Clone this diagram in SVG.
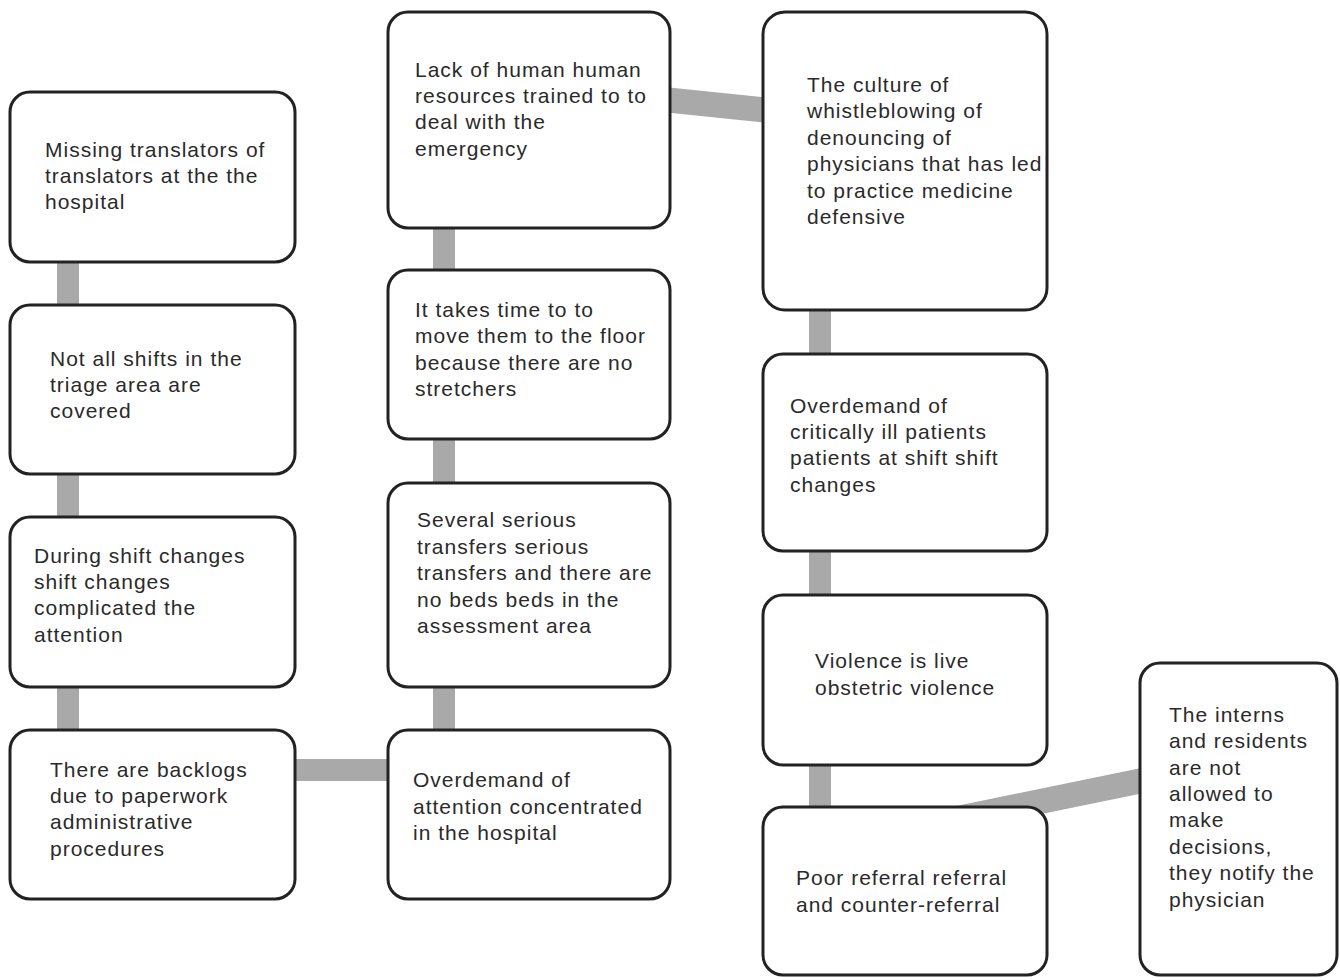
<svg xmlns="http://www.w3.org/2000/svg" width="1340" height="980" viewBox="0 0 1340 980">
  <style>
    .box { fill: #ffffff; stroke: #222222; stroke-width: 3; }
    .lbl { font-family: "Liberation Sans", Arial, sans-serif; font-size: 21px; letter-spacing: 1px; fill: #2a2a2a; }
    .link { stroke: #a9a9a9; stroke-width: 22; fill: none; stroke-linecap: butt; }
    .link.slant { stroke-width: 25; }
  </style>
  <rect width="1340" height="980" fill="#ffffff"/>

  <!-- connectors -->
  <g id="connectors">
    <line class="link" x1="68" y1="262" x2="68" y2="305"/>
    <line class="link" x1="68" y1="474" x2="68" y2="517"/>
    <line class="link" x1="68" y1="687" x2="68" y2="730"/>
    <line class="link" x1="295" y1="770" x2="388" y2="770"/>
    <line class="link" x1="444" y1="228" x2="444" y2="270"/>
    <line class="link" x1="444" y1="439" x2="444" y2="483"/>
    <line class="link" x1="444" y1="687" x2="444" y2="730"/>
    <line class="link slant" x1="668" y1="100" x2="765" y2="110"/>
    <line class="link" x1="820" y1="310" x2="820" y2="354"/>
    <line class="link" x1="820" y1="551" x2="820" y2="595"/>
    <line class="link" x1="820" y1="765" x2="820" y2="807"/>
    <line class="link slant" x1="955" y1="819" x2="1145" y2="780"/>
  </g>

  <!-- column 1 -->
  <g id="node-translators">
    <rect class="box" x="10" y="92" width="285" height="170" rx="20"/>
    <text class="lbl"><tspan x="45" y="157">Missing translators of</tspan><tspan x="45" y="183">translators at the the</tspan><tspan x="45" y="209">hospital</tspan></text>
  </g>
  <g id="node-shifts">
    <rect class="box" x="10" y="305" width="285" height="169" rx="20"/>
    <text class="lbl"><tspan x="50" y="366">Not all shifts in the</tspan><tspan x="50" y="392">triage area are</tspan><tspan x="50" y="418">covered</tspan></text>
  </g>
  <g id="node-shift-changes">
    <rect class="box" x="10" y="517" width="285" height="170" rx="20"/>
    <text class="lbl"><tspan x="34" y="563">During shift changes</tspan><tspan x="34" y="589">shift changes</tspan><tspan x="34" y="615">complicated the</tspan><tspan x="34" y="642">attention</tspan></text>
  </g>
  <g id="node-backlogs">
    <rect class="box" x="10" y="730" width="285" height="169" rx="20"/>
    <text class="lbl"><tspan x="50" y="777">There are backlogs</tspan><tspan x="50" y="803">due to paperwork</tspan><tspan x="50" y="829">administrative</tspan><tspan x="50" y="856">procedures</tspan></text>
  </g>

  <!-- column 2 -->
  <g id="node-human-resources">
    <rect class="box" x="388" y="12" width="282" height="216" rx="20"/>
    <text class="lbl"><tspan x="415" y="77">Lack of human human</tspan><tspan x="415" y="103">resources trained to to</tspan><tspan x="415" y="129">deal with the</tspan><tspan x="415" y="156">emergency</tspan></text>
  </g>
  <g id="node-stretchers">
    <rect class="box" x="388" y="270" width="282" height="169" rx="20"/>
    <text class="lbl"><tspan x="415" y="317">It takes time to to</tspan><tspan x="415" y="343">move them to the floor</tspan><tspan x="415" y="370">because there are no</tspan><tspan x="415" y="396">stretchers</tspan></text>
  </g>
  <g id="node-transfers">
    <rect class="box" x="388" y="483" width="282" height="204" rx="20"/>
    <text class="lbl"><tspan x="417" y="527">Several serious</tspan><tspan x="417" y="554">transfers serious</tspan><tspan x="417" y="580">transfers and there are</tspan><tspan x="417" y="607">no beds beds in the</tspan><tspan x="417" y="633">assessment area</tspan></text>
  </g>
  <g id="node-overdemand-hospital">
    <rect class="box" x="388" y="730" width="282" height="169" rx="20"/>
    <text class="lbl"><tspan x="413" y="787">Overdemand of</tspan><tspan x="413" y="814">attention concentrated</tspan><tspan x="413" y="840">in the hospital</tspan></text>
  </g>

  <!-- column 3 -->
  <g id="node-whistleblowing">
    <rect class="box" x="763" y="12" width="284" height="298" rx="22"/>
    <text class="lbl"><tspan x="807" y="92">The culture of</tspan><tspan x="807" y="118">whistleblowing of</tspan><tspan x="807" y="145">denouncing of</tspan><tspan x="807" y="171">physicians that has led</tspan><tspan x="807" y="198">to practice medicine</tspan><tspan x="807" y="224">defensive</tspan></text>
  </g>
  <g id="node-critically-ill">
    <rect class="box" x="763" y="354" width="284" height="197" rx="20"/>
    <text class="lbl"><tspan x="790" y="413">Overdemand of</tspan><tspan x="790" y="439">critically ill patients</tspan><tspan x="790" y="465">patients at shift shift</tspan><tspan x="790" y="492">changes</tspan></text>
  </g>
  <g id="node-violence">
    <rect class="box" x="763" y="595" width="284" height="170" rx="20"/>
    <text class="lbl"><tspan x="815" y="668">Violence is live</tspan><tspan x="815" y="695">obstetric violence</tspan></text>
  </g>
  <g id="node-referral">
    <rect class="box" x="763" y="807" width="284" height="168" rx="20"/>
    <text class="lbl"><tspan x="796" y="885">Poor referral referral</tspan><tspan x="796" y="912">and counter-referral</tspan></text>
  </g>

  <!-- column 4 -->
  <g id="node-interns">
    <rect class="box" x="1140" y="663" width="197" height="312" rx="20"/>
    <text class="lbl"><tspan x="1169" y="722">The interns</tspan><tspan x="1169" y="748">and residents</tspan><tspan x="1169" y="775">are not</tspan><tspan x="1169" y="801">allowed to</tspan><tspan x="1169" y="827">make</tspan><tspan x="1169" y="854">decisions,</tspan><tspan x="1169" y="880">they notify the</tspan><tspan x="1169" y="907">physician</tspan></text>
  </g>
</svg>
